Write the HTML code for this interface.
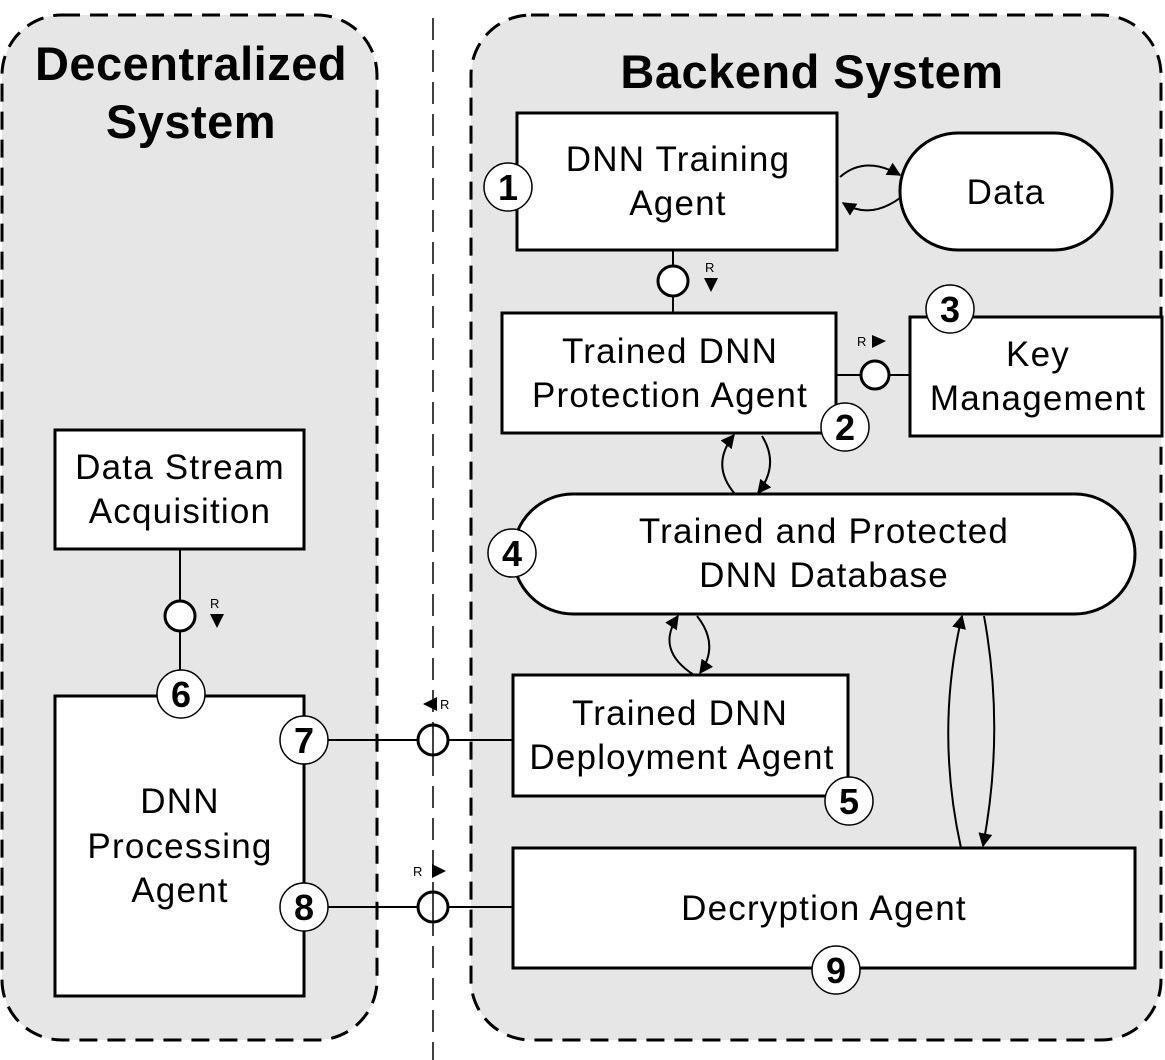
<!DOCTYPE html>
<html><head><meta charset="utf-8"><style>
html,body{margin:0;padding:0;background:#fff;}
svg{display:block;}
text{font-family:"Liberation Sans",Arial,sans-serif;}
</style></head><body>
<svg width="1165" height="1060" viewBox="0 0 1165 1060" xmlns="http://www.w3.org/2000/svg">
<defs>
<marker id="ah2" viewBox="0 0 10 10" refX="9" refY="5" markerWidth="14" markerHeight="14" markerUnits="userSpaceOnUse" orient="auto">
<path d="M0,0 L10,5 L0,10 z" fill="#000"/></marker>
</defs>
<rect width="1165" height="1060" fill="#fff"/>
<rect x="2" y="15" width="375" height="1025" rx="60" fill="#e6e6e6" stroke="#000" stroke-width="3" stroke-dasharray="18,10"/>
<rect x="471" y="15" width="690" height="1025" rx="60" fill="#e6e6e6" stroke="#000" stroke-width="3" stroke-dasharray="18,10"/>
<line x1="433" y1="18" x2="433" y2="1060" stroke="#000" stroke-width="1.5" stroke-dasharray="22,10"/>
<text x="191" y="80" font-size="47" font-weight="bold" text-anchor="middle" letter-spacing="0.5">Decentralized</text>
<text x="191" y="138" font-size="47" font-weight="bold" text-anchor="middle" letter-spacing="0.5">System</text>
<text x="812" y="88" font-size="47" font-weight="bold" text-anchor="middle" letter-spacing="0.5">Backend System</text>

<g stroke="#000" stroke-width="2" fill="none">
<line x1="673" y1="250" x2="673" y2="313"/>
<line x1="836" y1="375" x2="910" y2="375"/>
<line x1="180" y1="549" x2="180" y2="696"/>
<line x1="328" y1="740" x2="513" y2="740"/>
<line x1="328" y1="907" x2="513" y2="907"/>
</g>

<g stroke="#000" stroke-width="3" fill="#fff">
<rect x="517" y="113" width="320" height="137"/>
<rect x="900" y="133" width="212" height="117" rx="58"/>
<rect x="502" y="313" width="334" height="120"/>
<rect x="910" y="317" width="252" height="119"/>
<rect x="513" y="494" width="622" height="120" rx="60"/>
<rect x="513" y="675" width="335" height="121"/>
<rect x="513" y="848" width="622" height="120"/>
<rect x="55" y="430" width="249" height="119"/>
<rect x="55" y="696" width="249" height="300"/>
</g>

<g stroke="#000" stroke-width="3" fill="#fff">
<circle cx="673" cy="281" r="15"/>
<circle cx="875" cy="375" r="14"/>
<circle cx="180" cy="616" r="15"/>
<circle cx="433" cy="740" r="15"/>
<circle cx="433" cy="907" r="15"/>
</g>
<line x1="433" y1="892" x2="433" y2="922" stroke="#000" stroke-width="1.5"/>
<line x1="433" y1="725" x2="433" y2="755" stroke="#000" stroke-width="1.5"/>

<g font-size="13" fill="#000">
<text x="705" y="272">R</text>
<path d="M704,278 L718,278 L711,292 z"/>
<text x="857" y="346">R</text>
<path d="M872,335 L886,341 L872,348 z"/>
<text x="210" y="608">R</text>
<path d="M210,614 L224,614 L217,628 z"/>
<text x="440" y="709">R</text>
<path d="M437,697 L423,704 L437,711 z"/>
<text x="413" y="876">R</text>
<path d="M432,864 L446,871 L432,878 z"/>
</g>

<g stroke="#000" stroke-width="2" fill="none">
<path d="M840,177 Q865,155 900,175" marker-end="url(#ah2)"/>
<path d="M900,198 Q870,220 843,203" marker-end="url(#ah2)"/>
<path d="M735,494 Q710,465 734,435" marker-end="url(#ah2)"/>
<path d="M762,436 Q780,465 758,493" marker-end="url(#ah2)"/>
<path d="M694,675 Q655,650 678,616" marker-end="url(#ah2)"/>
<path d="M697,616 Q720,645 700,673" marker-end="url(#ah2)"/>
<path d="M961,848 Q935,730 962,616" marker-end="url(#ah2)"/>
<path d="M984,616 Q1005,730 983,846" marker-end="url(#ah2)"/>
</g>

<g font-size="35" text-anchor="middle" fill="#000" letter-spacing="1.2">
<text x="678" y="171">DNN Training</text>
<text x="678" y="215">Agent</text>
<text x="1006" y="204">Data</text>
<text x="670" y="363">Trained DNN</text>
<text x="670" y="407">Protection Agent</text>
<text x="1038" y="366">Key</text>
<text x="1038" y="410">Management</text>
<text x="824" y="543">Trained and Protected</text>
<text x="824" y="587">DNN Database</text>
<text x="680" y="725">Trained DNN</text>
<text x="682" y="769">Deployment Agent</text>
<text x="824" y="920">Decryption Agent</text>
<text x="180" y="479">Data Stream</text>
<text x="180" y="523">Acquisition</text>
<text x="180" y="813">DNN</text>
<text x="180" y="858">Processing</text>
<text x="180" y="902">Agent</text>
</g>

<g stroke="#000" stroke-width="1.5" fill="#fff">
<circle cx="508" cy="187" r="24"/>
<circle cx="845" cy="427" r="24"/>
<circle cx="950" cy="309" r="24"/>
<circle cx="512" cy="553" r="24"/>
<circle cx="849" cy="801" r="24"/>
<circle cx="181" cy="694" r="24"/>
<circle cx="304" cy="740" r="24"/>
<circle cx="304" cy="907" r="24"/>
<circle cx="836" cy="970" r="24"/>
</g>
<g font-size="36" font-weight="bold" text-anchor="middle" fill="#000">
<text x="508" y="200">1</text>
<text x="845" y="440">2</text>
<text x="950" y="322">3</text>
<text x="512" y="566">4</text>
<text x="849" y="814">5</text>
<text x="181" y="707">6</text>
<text x="304" y="753">7</text>
<text x="304" y="920">8</text>
<text x="836" y="983">9</text>
</g>
</svg>
</body></html>
